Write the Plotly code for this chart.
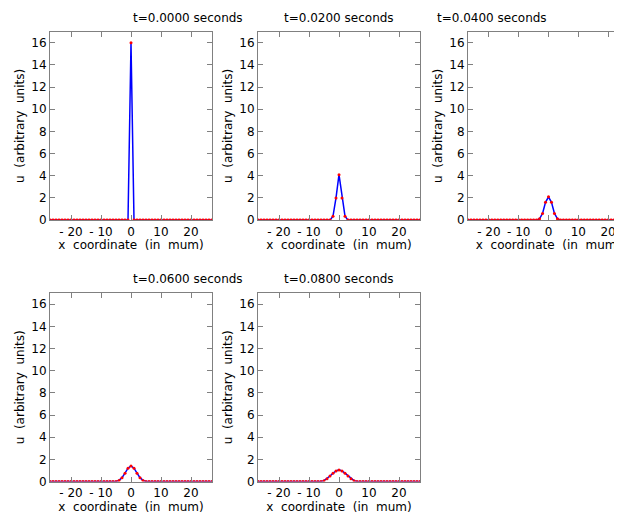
import plotly.graph_objects as go
from plotly.subplots import make_subplots

# grid points (unit spacing)
x = list(range(-27, 28))

titles = ["t=0.0000 seconds", "t=0.0200 seconds", "t=0.0400 seconds",
          "t=0.0600 seconds", "t=0.0800 seconds"]

# nonzero values around the centre, symmetric: [u(0), u(+-1), u(+-2), ...]
centre_0 = [16.0]
centre_1 = [4.1, 2.0, 0.35]
centre_2 = [2.1, 1.6, 0.6, 0.12]
centre_3 = [1.4, 1.2, 0.75, 0.35, 0.1]
centre_4 = [1.05, 0.95, 0.75, 0.5, 0.25, 0.08]
profiles = [centre_0, centre_1, centre_2, centre_3, centre_4]


def expand(c):
    vals = []
    for xi in x:
        k = abs(xi)
        vals.append(c[k] if k < len(c) else 0.0)
    return vals


W, H = 622, 519
col_px = [(42, 204), (250, 412), (460, 621)]
row_px = [(24, 215), (289, 480)]

fig = make_subplots(rows=2, cols=3)

for i, c in enumerate(profiles):
    r, col = i // 3 + 1, i % 3 + 1
    fig.add_trace(go.Scatter(x=x, y=expand(c), mode="lines+markers",
                             line=dict(color="blue", width=1.5),
                             marker=dict(color="red", size=3),
                             showlegend=False), row=r, col=col)

axis_font = dict(family="DejaVu Sans", size=12, color="black")
for i in range(5):
    r, col = i // 3 + 1, i % 3 + 1
    xd = [col_px[col - 1][0] / W, col_px[col - 1][1] / W]
    yd = [1 - row_px[r - 1][1] / H, 1 - row_px[r - 1][0] / H]
    fig.update_xaxes(domain=xd, range=[-27, 27], tickvals=[-20, -10, 0, 10, 20],
                     ticktext=["- 20", "- 10", "0", "10", "20"],
                     ticks="inside", ticklen=5, tickcolor="gray", mirror="allticks",
                     showline=True, linecolor="gray", showgrid=False, zeroline=False,
                     title=dict(text="x  coordinate  (in  mum)", font=axis_font, standoff=2),
                     tickfont=axis_font, row=r, col=col)
    fig.update_yaxes(domain=yd, range=[0, 17], dtick=2, ticks="inside", ticklen=5,
                     tickcolor="gray", mirror="allticks", showline=True, linecolor="gray",
                     showgrid=False, zeroline=False,
                     title=dict(text="u  (arbitrary  units)", font=axis_font, standoff=4),
                     tickfont=axis_font, row=r, col=col)

# panel titles
for i, t in enumerate(titles):
    r, col = i // 3, i % 3
    fig.add_annotation(text=t, x=(col_px[col][0] + col_px[col][1]) / 2 / W,
                       y=1 - row_px[r][0] / H, xref="paper", yref="paper",
                       yanchor="bottom", yshift=5, showarrow=False, font=axis_font)

fig.update_layout(width=W, height=H, plot_bgcolor="white", paper_bgcolor="white",
                  margin=dict(l=0, r=0, t=0, b=0))

fig.write_html("out.html")
